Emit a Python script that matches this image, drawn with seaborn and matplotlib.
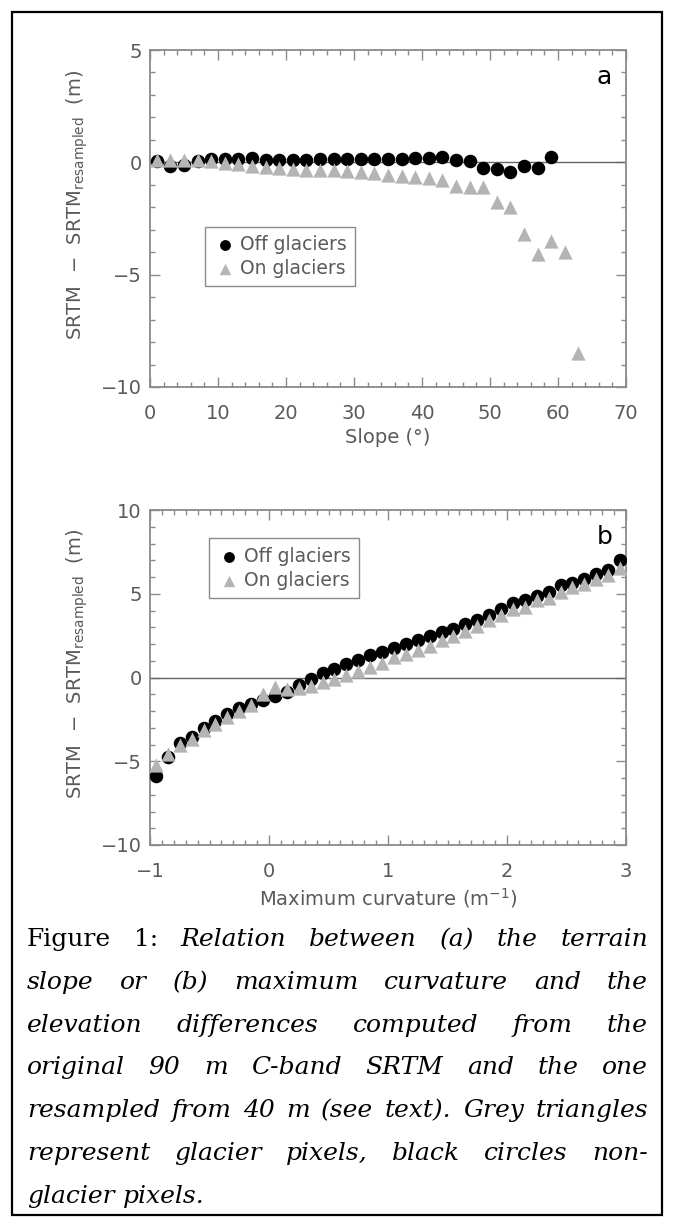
import matplotlib
matplotlib.use('Agg')
import matplotlib.pyplot as plt
import seaborn as sns
import numpy as np
import pandas as pd
from matplotlib.ticker import MultipleLocator
from matplotlib.patches import Rectangle

# ---------------- data ----------------
slope_off_x = [1, 3, 5, 7, 9, 11, 13, 15, 17, 19, 21, 23, 25, 27, 29,
               31, 33, 35, 37, 39, 41, 43, 45, 47, 49, 51, 53, 55, 57, 59]
slope_off_y = [0.05, -0.15, -0.10, 0.05, 0.15, 0.15, 0.15, 0.20, 0.10, 0.10,
               0.10, 0.12, 0.15, 0.15, 0.15, 0.15, 0.15, 0.15, 0.17, 0.19,
               0.19, 0.24, 0.09, 0.07, -0.25, -0.30, -0.44, -0.15, -0.25, 0.24]
slope_on_x = [1, 3, 5, 7, 9, 11, 13, 15, 17, 19, 21, 23, 25, 27, 29, 31,
              33, 35, 37, 39, 41, 43, 45, 47, 49, 51, 53, 55, 57, 59, 61, 63]
slope_on_y = [0.10, 0.12, 0.10, 0.10, 0.08, -0.05, -0.09, -0.15, -0.22, -0.27,
              -0.31, -0.34, -0.34, -0.34, -0.39, -0.41, -0.49, -0.57, -0.62, -0.66,
              -0.70, -0.80, -1.04, -1.10, -1.12, -1.78, -2.00, -3.20, -4.10, -3.50,
              -3.97, -8.50]

curv_x = [-0.95, -0.85, -0.75, -0.65, -0.55, -0.45, -0.35, -0.25, -0.15, -0.05,
          0.05, 0.15, 0.25, 0.35, 0.45, 0.55, 0.65, 0.75, 0.85, 0.95,
          1.05, 1.15, 1.25, 1.35, 1.45, 1.55, 1.65, 1.75, 1.85, 1.95,
          2.05, 2.15, 2.25, 2.35, 2.45, 2.55, 2.65, 2.75, 2.85, 2.95]
curv_off_y = [-5.90, -4.76, -3.92, -3.53, -3.00, -2.57, -2.18, -1.80, -1.59, -1.33,
              -1.08, -0.86, -0.45, -0.10, 0.27, 0.53, 0.82, 1.06, 1.33, 1.51,
              1.78, 1.99, 2.23, 2.48, 2.70, 2.88, 3.17, 3.42, 3.71, 4.07,
              4.44, 4.64, 4.84, 5.10, 5.50, 5.63, 5.89, 6.19, 6.39, 7.00]
curv_on_y = [-5.25, -4.57, -4.04, -3.65, -3.16, -2.76, -2.37, -1.98, -1.63, -0.98,
             -0.55, -0.69, -0.65, -0.49, -0.29, -0.10, 0.14, 0.39, 0.63, 0.86,
             1.20, 1.42, 1.64, 1.89, 2.21, 2.50, 2.80, 3.05, 3.41, 3.71,
             4.11, 4.21, 4.60, 4.76, 5.10, 5.40, 5.60, 5.90, 6.09, 6.55]

legend_labels = ["Off glaciers", "On glaciers"]
panel_letters = ["a", "b"]
xlabels = ["Slope (°)", r"Maximum curvature (m$^{-1}$)"]
ylabel = r"SRTM  $-$  SRTM$_{\rm resampled}$  (m)"

caption_lines = [
    [("Figure", "n"), ("1:", "n"), ("Relation", "i"), ("between", "i"), ("(a)", "i"),
     ("the", "i"), ("terrain", "i")],
    [(w, "i") for w in "slope or (b) maximum curvature and the".split()],
    [(w, "i") for w in "elevation differences computed from the".split()],
    [(w, "i") for w in "original 90 m C-band SRTM and the one".split()],
    [(w, "i") for w in "resampled from 40 m (see text). Grey triangles".split()],
    [(w, "i") for w in "represent glacier pixels, black circles non-".split()],
    [(w, "i") for w in "glacier pixels.".split()],
]

# ---------------- style ----------------
sns.set_theme(style="white")
plt.rcParams['font.family'] = ['DejaVu Sans']
plt.rcParams['mathtext.fontset'] = 'dejavusans'

W, H = 673, 1227
fig = plt.figure(figsize=(W / 100, H / 100), dpi=100)
fig.patch.set_facecolor('white')

AX_COL = '#8a8a8a'
TXT_COL = '#5a5a5a'
GREY = '#b4b4b4'
FS = 14

def px_rect(left, top, right, bottom):
    return [left / W, 1 - bottom / H, (right - left) / W, (bottom - top) / H]

ax1 = fig.add_axes(px_rect(150, 50, 626, 387))
ax2 = fig.add_axes(px_rect(150, 510, 626, 845))

df_top_off = pd.DataFrame({"x": slope_off_x, "y": slope_off_y})
df_top_on = pd.DataFrame({"x": slope_on_x, "y": slope_on_y})
df_bot_off = pd.DataFrame({"x": curv_x, "y": curv_off_y})
df_bot_on = pd.DataFrame({"x": curv_x, "y": curv_on_y})

def style_axes(ax, xlim, ylim, xmaj, xmin, ymaj, ymin):
    ax.set_xlim(*xlim)
    ax.set_ylim(*ylim)
    ax.axhline(0, color='#666666', lw=1.0, zorder=1)
    ax.xaxis.set_major_locator(MultipleLocator(xmaj))
    ax.xaxis.set_minor_locator(MultipleLocator(xmin))
    ax.yaxis.set_major_locator(MultipleLocator(ymaj))
    ax.yaxis.set_minor_locator(MultipleLocator(ymin))
    ax.tick_params(which='both', direction='in', top=True, right=True,
                   bottom=True, left=True, color=AX_COL, width=1.0)
    ax.tick_params(which='major', length=7.2, labelsize=FS, labelcolor=TXT_COL)
    ax.tick_params(which='minor', length=3.6)
    ax.tick_params(axis='x', which='major', pad=12)
    ax.tick_params(axis='y', which='major', pad=6)
    ax.tick_params(labeltop=False, labelright=False)
    for sp in ax.spines.values():
        sp.set_color(AX_COL)
        sp.set_linewidth(1.3)
        sp.set_visible(True)
    ax.set_facecolor('white')
    ax.grid(False)

for ax, doff, don in [(ax1, df_top_off, df_top_on), (ax2, df_bot_off, df_bot_on)]:
    sns.scatterplot(data=doff, x="x", y="y", ax=ax, marker='o', color='black',
                    s=95, linewidth=0, label=legend_labels[0], zorder=3)
    sns.scatterplot(data=don, x="x", y="y", ax=ax, marker='^', color=GREY,
                    s=105, linewidth=0, label=legend_labels[1], zorder=4)

style_axes(ax1, (0, 70), (-10, 5), 10, 2, 5, 1)
style_axes(ax2, (-1, 3), (-10, 10), 1, 0.1, 5, 1)

for ax, xl, letter, leg_anchor in [(ax1, xlabels[0], panel_letters[0], (0.1155, 0.475)),
                                   (ax2, xlabels[1], panel_letters[1], (0.124, 0.915))]:
    ax.set_xlabel(xl, fontsize=FS, color=TXT_COL, labelpad=4)
    ax.set_ylabel(ylabel, fontsize=FS, color=TXT_COL)
    ax.yaxis.set_label_coords(-0.125, 0.54)
    ax.text(0.955, 0.92, letter, transform=ax.transAxes, fontsize=18,
            color='black', ha='center', va='center')
    leg = ax.legend(loc='upper left', bbox_to_anchor=leg_anchor, frameon=True,
                    fancybox=False, edgecolor=AX_COL, framealpha=1,
                    fontsize=13.5, handletextpad=0.2, labelspacing=0.25,
                    borderpad=0.45, markerscale=0.8, handlelength=1.2,
                    borderaxespad=0)
    leg.get_frame().set_linewidth(1.0)
    for t in leg.get_texts():
        t.set_color(TXT_COL)

# ---------------- caption ----------------
fig.canvas.draw()
renderer = fig.canvas.get_renderer()
CAP_FS = 18
left_px, right_px = 27, 648
line0 = 946
dline = 42.8

def make_word(word, style, x, y):
    return fig.text(x / W, 1 - y / H, word, fontsize=CAP_FS, family='DejaVu Serif',
                    style='italic' if style == 'i' else 'normal',
                    ha='left', va='baseline', color='black')

for li, words in enumerate(caption_lines):
    y = line0 + li * dline
    texts = [make_word(w, s, 0, y) for w, s in words]
    widths = [t.get_window_extent(renderer).width for t in texts]
    space = fig.text(0, 0, "a a", fontsize=CAP_FS, family='DejaVu Serif')
    sw = space.get_window_extent(renderer).width
    space2 = fig.text(0, 0, "aa", fontsize=CAP_FS, family='DejaVu Serif')
    sw = sw - space2.get_window_extent(renderer).width
    space.remove(); space2.remove()
    if li == len(caption_lines) - 1:
        gap = sw
    else:
        gap = (right_px - left_px - sum(widths)) / (len(words) - 1)
    x = left_px
    for t, w in zip(texts, widths):
        t.set_x(x / W)
        x += w + gap

# border
fig.patches.append(Rectangle((12 / W, 1 - 1215 / H), (662 - 12) / W, (1215 - 12) / H,
                             transform=fig.transFigure, fill=False,
                             edgecolor='black', lw=1.6))

fig.savefig('out.png', dpi=100, facecolor='white')
